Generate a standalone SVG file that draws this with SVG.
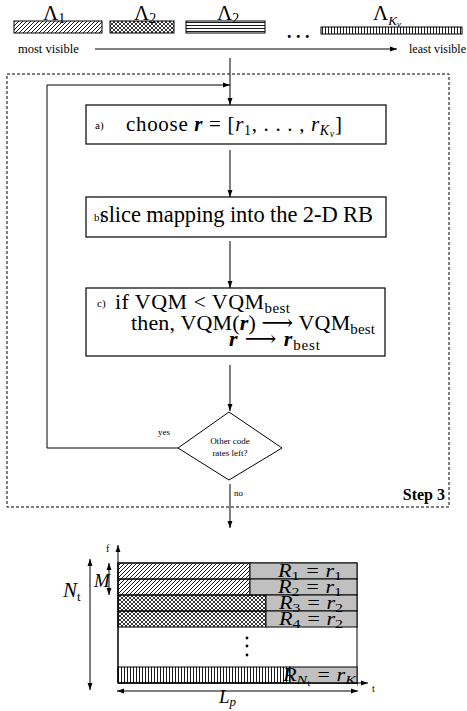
<svg xmlns="http://www.w3.org/2000/svg" width="467" height="711" viewBox="0 0 467 711">
<style>
text{font-family:"Liberation Serif","DejaVu Serif",serif;fill:#000}
.ln{stroke:#000;stroke-width:1;fill:none}
.box{fill:#fff;stroke:#000;stroke-width:1.2}
.big{font-size:21px}
.sm{font-size:11px}
.xs{font-size:9px}
.lab{font-size:12.5px}
.it{font-style:italic}
.bi{font-style:italic;font-weight:bold}
.gray{fill:#c0c0c0;stroke:#000;stroke-width:1}
.rl{font-size:18px;font-style:italic}
</style>
<defs>
<marker id="ah" viewBox="0 0 10 10" refX="10" refY="5" markerWidth="7" markerHeight="7" orient="auto-start-reverse" markerUnits="userSpaceOnUse"><path d="M0,1.5 L10,5 L0,8.5 Z" fill="#000"/></marker>
<pattern id="diag" patternUnits="userSpaceOnUse" width="4" height="4"><path d="M-1,1 L1,-1 M0,4 L4,0 M3,5 L5,3" stroke="#000" stroke-width="0.9"/></pattern>
<pattern id="cross" patternUnits="userSpaceOnUse" width="4" height="4"><path d="M-1,1 L1,-1 M0,4 L4,0 M3,5 L5,3 M-1,3 L1,5 M0,0 L4,4 M3,-1 L5,1" stroke="#000" stroke-width="0.8"/></pattern>
<pattern id="horiz" patternUnits="userSpaceOnUse" width="4" height="3"><path d="M0,1.5 L4,1.5" stroke="#000" stroke-width="0.9"/></pattern>
<pattern id="vert" patternUnits="userSpaceOnUse" width="3" height="4"><path d="M1.5,0 L1.5,4" stroke="#000" stroke-width="0.9"/></pattern>
<clipPath id="clipR"><rect x="270" y="660" width="88" height="30"/></clipPath>
</defs>

<g id="legend">
<rect x="14" y="21" width="88" height="12" fill="url(#diag)" stroke="#000"/>
<rect x="110" y="21" width="64" height="12" fill="url(#cross)" stroke="#000"/>
<rect x="186" y="21" width="79" height="12" fill="url(#horiz)" stroke="#000"/>
<rect x="321" y="27" width="141" height="7" fill="url(#vert)" stroke="#000"/>
<text x="43" y="20" style="font-size:21px">Λ<tspan font-size="14" dy="3">1</tspan></text>
<text x="134" y="20" style="font-size:21px">Λ<tspan font-size="14" dy="3">2</tspan></text>
<text x="217" y="20" style="font-size:21px">Λ<tspan font-size="14" dy="3">2</tspan></text>
<text x="373" y="20" style="font-size:21px">Λ<tspan font-size="13" dy="5" class="it">K</tspan><tspan font-size="9" dy="2" class="it">v</tspan></text>
<text x="287" y="38" style="font-size:18px;font-weight:bold">. . .</text>
<text x="18" y="53" class="lab">most visible</text>
<text x="409" y="53" style="font-size:12px">least visible</text>
</g>

<g id="connectors">
<line class="ln" x1="95" y1="49" x2="397" y2="49" marker-end="url(#ah)"/>
<line class="ln" x1="230" y1="58" x2="230" y2="105" marker-end="url(#ah)"/>
<polyline class="ln" points="178,448 47,448 47,85 230,85" marker-end="url(#ah)"/>
<line class="ln" x1="230" y1="150" x2="230" y2="197" marker-end="url(#ah)"/>
<line class="ln" x1="230" y1="241" x2="230" y2="288" marker-end="url(#ah)"/>
<line class="ln" x1="230" y1="365" x2="230" y2="411" marker-end="url(#ah)"/>
<line class="ln" x1="230" y1="484" x2="230" y2="528" marker-end="url(#ah)"/>
</g>

<g id="step3">
<rect x="7" y="74" width="442" height="433" fill="none" stroke="#000" stroke-width="1" stroke-dasharray="3,2"/>
<text x="445" y="500" text-anchor="end" style="font-size:16px;font-weight:bold">Step 3</text>
</g>

<g id="node-a">
<rect class="box" x="86" y="105" width="300" height="39"/>
<text x="95" y="129" class="sm">a)</text>
<text x="126" y="131" class="big" textLength="216" lengthAdjust="spacing">choose <tspan class="bi">r</tspan> = [<tspan class="it">r</tspan><tspan font-size="14" dy="4">1</tspan><tspan dy="-4">, . . . , </tspan><tspan class="it">r</tspan><tspan class="it" font-size="14" dy="4">K</tspan><tspan class="it" font-size="10" dy="2">v</tspan><tspan dy="-6">]</tspan></text>
</g>

<g id="node-b">
<rect class="box" x="86" y="197" width="300" height="40"/>
<text x="94" y="221" class="sm">b)</text>
<text x="100" y="222" style="font-size:22.5px" textLength="273" lengthAdjust="spacing">slice mapping into the 2-D RB</text>
</g>

<g id="node-c">
<rect class="box" x="86" y="288" width="299" height="68"/>
<text x="97" y="307" class="sm">c)</text>
<text x="115" y="309" style="font-size:22px" textLength="175" lengthAdjust="spacing">if VQM &lt; VQM<tspan font-size="15" dy="4">best</tspan></text>
<text x="131" y="330" style="font-size:22px" textLength="244" lengthAdjust="spacing">then, VQM(<tspan class="bi">r</tspan>) ⟶ VQM<tspan font-size="15" dy="4">best</tspan></text>
<text x="229" y="346" style="font-size:22px" textLength="91" lengthAdjust="spacing"><tspan class="bi">r</tspan> ⟶ <tspan class="bi">r</tspan><tspan font-size="15" dy="4">best</tspan></text>
</g>

<g id="node-decision">
<polygon points="229,412 282,448 229,480 178,448" fill="#fff" stroke="#000" stroke-width="1"/>
<text x="230" y="444" text-anchor="middle" class="xs">Other code</text>
<text x="230" y="456" text-anchor="middle" class="xs">rates left?</text>
<text x="158" y="435" class="xs">yes</text>
<text x="234" y="496" class="xs">no</text>
</g>

<g id="chart">
<rect x="118" y="563" width="239" height="120" fill="#fff" stroke="#000"/>
<rect x="118" y="563" width="132" height="16" fill="url(#diag)" stroke="#000"/>
<rect class="gray" x="250" y="563" width="107" height="16"/>
<rect x="118" y="579" width="132" height="16" fill="url(#diag)" stroke="#000"/>
<rect class="gray" x="250" y="579" width="107" height="16"/>
<rect x="118" y="595" width="148" height="16" fill="url(#cross)" stroke="#000"/>
<rect class="gray" x="266" y="595" width="91" height="16"/>
<rect x="118" y="611" width="148" height="16" fill="url(#cross)" stroke="#000"/>
<rect class="gray" x="266" y="611" width="91" height="16"/>
<rect x="118" y="667" width="172" height="16" fill="url(#vert)" stroke="#000"/>
<rect class="gray" x="290" y="667" width="67" height="16"/>
<circle cx="247" cy="638" r="1.4"/>
<circle cx="247" cy="646" r="1.4"/>
<circle cx="247" cy="655" r="1.4"/>
<text x="278" y="577" class="rl" textLength="64" lengthAdjust="spacingAndGlyphs">R<tspan font-size="13" dy="3" font-style="normal">1</tspan><tspan dy="-3"> = </tspan>r<tspan font-size="13" dy="3" font-style="normal">1</tspan></text>
<text x="278" y="593" class="rl" textLength="64" lengthAdjust="spacingAndGlyphs">R<tspan font-size="13" dy="3" font-style="normal">2</tspan><tspan dy="-3"> = </tspan>r<tspan font-size="13" dy="3" font-style="normal">1</tspan></text>
<text x="279" y="609" class="rl" textLength="64" lengthAdjust="spacingAndGlyphs">R<tspan font-size="13" dy="3" font-style="normal">3</tspan><tspan dy="-3"> = </tspan>r<tspan font-size="13" dy="3" font-style="normal">2</tspan></text>
<text x="279" y="625" class="rl" textLength="64" lengthAdjust="spacingAndGlyphs">R<tspan font-size="13" dy="3" font-style="normal">4</tspan><tspan dy="-3"> = </tspan>r<tspan font-size="13" dy="3" font-style="normal">2</tspan></text>
<g clip-path="url(#clipR)"><text x="283" y="681" class="rl" textLength="78" lengthAdjust="spacingAndGlyphs">R<tspan font-size="13" dy="3">N</tspan><tspan font-size="9" dy="2" font-style="normal">t</tspan><tspan dy="-5"> = </tspan>r<tspan font-size="13" dy="3">K</tspan><tspan font-size="9" dy="2">v</tspan></text></g>
<line class="ln" x1="118" y1="683" x2="118" y2="545" marker-end="url(#ah)"/>
<line class="ln" x1="118" y1="683" x2="368" y2="683" marker-end="url(#ah)"/>
<text x="106" y="552" style="font-size:10px">f</text>
<text x="372" y="692" style="font-size:10px">t</text>
<line class="ln" x1="90" y1="690" x2="90" y2="559" marker-start="url(#ah)" marker-end="url(#ah)"/>
<text x="63" y="597" class="it" style="font-size:21px">N<tspan font-size="13" dy="4" font-style="normal">t</tspan></text>
<line class="ln" x1="109" y1="595" x2="109" y2="563" marker-start="url(#ah)" marker-end="url(#ah)"/>
<text x="94" y="587" class="it" style="font-size:19px">M</text>
<line class="ln" x1="117" y1="691" x2="358" y2="691" marker-start="url(#ah)" marker-end="url(#ah)"/>
<text x="219" y="703" class="it" style="font-size:19px">L<tspan font-size="13" dy="3">p</tspan></text>
</g>
</svg>
